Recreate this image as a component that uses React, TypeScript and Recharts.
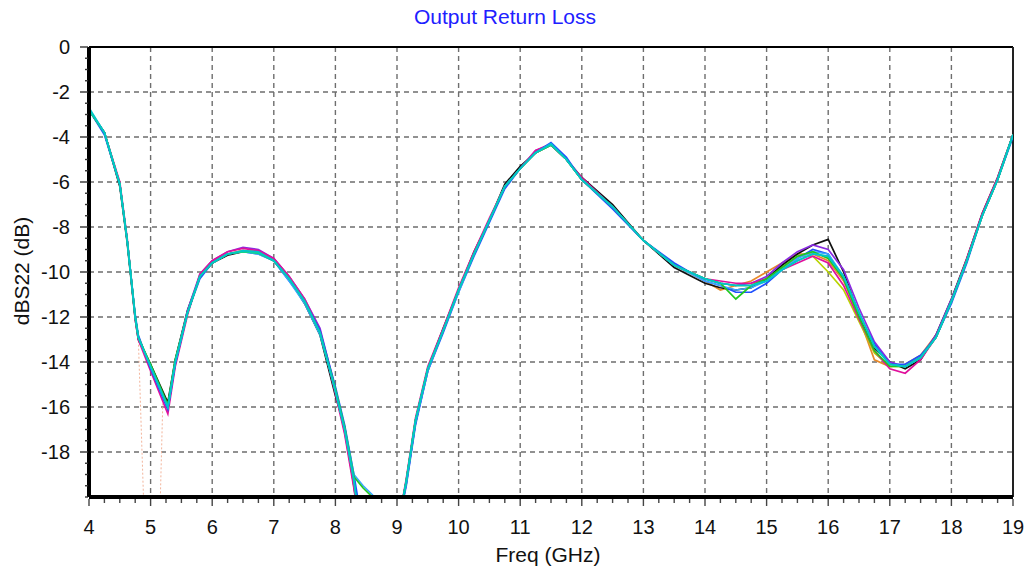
import { LineChart, Line, CartesianGrid, XAxis, YAxis, ReferenceLine } from 'recharts';

// frequency points (GHz) shared by every trace
const freqs = [
  4.0, 4.25, 4.5, 4.62, 4.75, 4.8, 5.0, 5.28, 5.4, 5.6,
  5.8, 6.0, 6.25, 6.5, 6.75, 7.0, 7.25, 7.5, 7.75, 8.0,
  8.15, 8.3, 8.45, 8.6, 9.0, 9.15, 9.3, 9.5, 9.75, 10.0,
  10.25, 10.5, 10.75, 11.0, 11.25, 11.5, 11.75, 12.0, 12.5, 13.0,
  13.5, 14.0, 14.25, 14.5, 14.75, 15.0, 15.25, 15.5, 15.75, 16.0,
  16.25, 16.5, 16.75, 17.0, 17.25, 17.5, 17.75, 18.0, 18.25, 18.5,
  18.75, 19.0,
];

const orangeDb = [
  -2.8, -3.8, -6.1, -8.6, -12.0, -12.9, -14.2, -16.0, -14.0, -11.8,
  -10.2, -9.6, -9.2, -9.05, -9.1, -9.5, -10.3, -11.3, -12.7, -15.3,
  -17.0, -19.3, -22.5, -24.0, -21.5, -19.3, -16.6, -14.3, -12.6, -10.8,
  -9.2, -7.7, -6.2, -5.4, -4.7, -4.35, -5.0, -5.9, -7.1, -8.6,
  -9.7, -10.4, -10.8, -10.6, -10.4, -10.0, -9.6, -9.2, -9.2, -9.5,
  -10.4, -12.0, -13.9, -14.2, -14.1, -13.7, -12.8, -11.3, -9.5, -7.5,
  -5.9, -3.9,
];
const yellowDb = [
  -2.8, -3.8, -6.1, -8.6, -12.0, -12.9, -14.2, -16.0, -14.0, -11.8,
  -10.2, -9.6, -9.2, -9.05, -9.1, -9.5, -10.3, -11.3, -12.7, -15.3,
  -17.0, -19.2, -22.5, -24.0, -21.5, -19.3, -16.6, -14.3, -12.6, -10.8,
  -9.2, -7.7, -6.2, -5.4, -4.7, -4.3, -5.0, -5.9, -7.1, -8.6,
  -9.7, -10.3, -10.5, -10.6, -10.6, -10.3, -9.8, -9.3, -9.3, -10.0,
  -10.8, -12.2, -13.6, -14.2, -14.2, -13.8, -12.9, -11.3, -9.5, -7.5,
  -5.9, -3.9,
];
const blackDb = [
  -2.8, -3.8, -6.2, -8.7, -12.1, -13.0, -14.1, -15.8, -13.9, -11.7,
  -10.2, -9.6, -9.25, -9.1, -9.15, -9.5, -10.3, -11.4, -12.8, -15.5,
  -16.9, -19.5, -22.5, -24.0, -21.5, -19.4, -16.7, -14.3, -12.5, -10.8,
  -9.1, -7.7, -6.1, -5.3, -4.7, -4.35, -5.0, -5.8, -7.0, -8.6,
  -9.8, -10.5, -10.7, -10.8, -10.7, -10.3, -9.7, -9.2, -8.8, -8.55,
  -10.0, -11.9, -13.4, -14.0, -14.3, -13.9, -12.8, -11.2, -9.4, -7.4,
  -5.8, -3.9,
];
const purpleDb = [
  -2.8, -3.8, -6.1, -8.6, -12.0, -12.9, -14.2, -16.1, -14.0, -11.7,
  -10.1, -9.5, -9.1, -8.9, -9.0, -9.4, -10.2, -11.2, -12.5, -15.2,
  -17.1, -19.4, -22.5, -24.0, -21.5, -19.3, -16.7, -14.4, -12.6, -10.8,
  -9.2, -7.7, -6.2, -5.4, -4.6, -4.35, -5.0, -5.9, -7.1, -8.6,
  -9.7, -10.3, -10.5, -10.6, -10.5, -10.2, -9.6, -9.1, -8.8, -9.0,
  -9.9, -11.6, -13.1, -14.0, -14.2, -13.8, -12.8, -11.2, -9.5, -7.5,
  -5.9, -3.9,
];
const magentaDb = [
  -2.8, -3.8, -6.0, -8.5, -12.1, -13.0, -14.4, -16.3, -14.2, -11.9,
  -10.1, -9.5, -9.1, -8.95, -9.05, -9.4, -10.2, -11.2, -12.6, -15.4,
  -17.2, -19.6, -22.5, -24.0, -21.5, -19.2, -16.5, -14.2, -12.5, -10.7,
  -9.1, -7.6, -6.2, -5.4, -4.6, -4.3, -5.0, -5.8, -7.1, -8.6,
  -9.7, -10.3, -10.4, -10.5, -10.5, -10.3, -9.9, -9.6, -9.3, -9.6,
  -10.6, -12.1, -13.5, -14.3, -14.5, -13.9, -12.9, -11.3, -9.4, -7.4,
  -5.8, -3.9,
];
const blueDb = [
  -2.8, -3.9, -6.1, -8.6, -11.9, -12.8, -14.3, -16.1, -14.1, -11.8,
  -10.3, -9.6, -9.2, -9.1, -9.2, -9.5, -10.4, -11.3, -12.6, -15.1,
  -16.8, -19.0, -21.5, -24.0, -21.5, -19.5, -16.8, -14.4, -12.7, -10.9,
  -9.3, -7.8, -6.3, -5.4, -4.7, -4.25, -4.9, -5.9, -7.2, -8.6,
  -9.6, -10.4, -10.6, -10.9, -10.9, -10.5, -9.9, -9.4, -9.0, -9.2,
  -10.3, -11.9, -13.2, -14.1, -14.1, -13.7, -12.9, -11.4, -9.6, -7.5,
  -5.9, -4.0,
];
const skyDb = [
  -2.8, -3.8, -6.1, -8.6, -12.0, -12.9, -14.2, -16.0, -14.0, -11.8,
  -10.2, -9.6, -9.2, -9.1, -9.2, -9.5, -10.4, -11.4, -12.8, -15.2,
  -16.9, -19.0, -19.5, -19.9, -21.5, -19.4, -16.7, -14.4, -12.6, -10.9,
  -9.2, -7.7, -6.2, -5.4, -4.7, -4.3, -5.0, -5.9, -7.1, -8.6,
  -9.7, -10.4, -10.6, -10.8, -10.7, -10.4, -9.9, -9.4, -9.1, -9.2,
  -10.2, -11.8, -13.3, -14.1, -14.2, -13.8, -12.9, -11.3, -9.5, -7.5,
  -5.9, -3.9,
];
const greenDb = [
  -2.8, -3.8, -6.1, -8.6, -12.0, -12.9, -14.1, -15.9, -13.9, -11.8,
  -10.2, -9.6, -9.2, -9.1, -9.15, -9.5, -10.3, -11.3, -12.7, -15.2,
  -16.9, -19.1, -19.6, -20.0, -21.5, -19.3, -16.6, -14.3, -12.6, -10.8,
  -9.2, -7.7, -6.2, -5.4, -4.7, -4.35, -5.0, -5.9, -7.1, -8.6,
  -9.7, -10.3, -10.5, -11.2, -10.6, -10.3, -9.8, -9.3, -9.1, -9.4,
  -10.3, -12.0, -13.5, -14.2, -14.2, -13.8, -12.9, -11.3, -9.5, -7.5,
  -5.9, -3.9,
];
const tealDb = [
  -2.8, -3.8, -6.1, -8.6, -12.0, -12.9, -14.2, -16.0, -14.0, -11.8,
  -10.2, -9.6, -9.2, -9.1, -9.15, -9.5, -10.3, -11.3, -12.7, -15.3,
  -17.0, -19.3, -22.5, -24.0, -21.5, -19.3, -16.6, -14.3, -12.6, -10.8,
  -9.2, -7.7, -6.2, -5.4, -4.7, -4.35, -5.0, -5.9, -7.1, -8.6,
  -9.7, -10.3, -10.5, -10.6, -10.6, -10.4, -9.9, -9.5, -9.2, -9.3,
  -10.2, -11.8, -13.3, -14.1, -14.2, -13.8, -12.9, -11.3, -9.5, -7.5,
  -5.9, -3.9,
];
const cyanDb = [
  -2.7, -3.8, -6.1, -8.6, -12.0, -12.9, -14.2, -16.0, -14.0, -11.8,
  -10.2, -9.6, -9.2, -9.05, -9.1, -9.5, -10.3, -11.3, -12.7, -15.3,
  -17.0, -19.2, -22.5, -24.0, -21.5, -19.3, -16.6, -14.3, -12.6, -10.8,
  -9.2, -7.7, -6.2, -5.4, -4.7, -4.3, -5.0, -5.9, -7.1, -8.6,
  -9.7, -10.3, -10.5, -10.6, -10.6, -10.4, -9.9, -9.5, -9.2, -9.3,
  -10.2, -11.8, -13.3, -14.1, -14.2, -13.8, -12.9, -11.3, -9.5, -7.5,
  -5.9, -3.9,
];

// faint trace with two deep notches near 5 GHz
const paleFreqs = [4.75, 4.8, 4.92, 5.13, 5.2, 5.28];
const paleDb = [-12.0, -12.9, -23.0, -23.0, -15.6, -16.0];

const xMajor = [4, 5, 6, 7, 8, 9, 10, 11, 12, 13, 14, 15, 16, 17, 18, 19];
const yMajor = [0, -2, -4, -6, -8, -10, -12, -14, -16, -18];
const xTicks = Array.from({ length: 61 }, (_, i) => 4 + i * 0.25);
const yTicks = Array.from({ length: 41 }, (_, i) => -i * 0.5);

const traces = [
  { name: 'orange', color: '#e8892a', values: orangeDb },
  { name: 'yellow', color: '#b8d400', values: yellowDb },
  { name: 'black', color: '#111111', values: blackDb },
  { name: 'purple', color: '#8a2be2', values: purpleDb },
  { name: 'magenta', color: '#e0109c', values: magentaDb },
  { name: 'blue', color: '#1e50ff', values: blueDb },
  { name: 'sky', color: '#3aa6ff', values: skyDb },
  { name: 'green', color: '#20c820', values: greenDb },
  { name: 'teal', color: '#10d898', values: tealDb },
  { name: 'cyan', color: '#00c4cc', values: cyanDb },
];

const toPoints = (fs: number[], vs: number[]) => fs.map((f, i) => ({ f, v: vs[i] }));

const font = '"Liberation Sans", Arial, sans-serif';
const TICK_SIZE = 8;
const X_MARGIN = 15;
const Y_MARGIN = 11;

const XTick = (props: any) => {
  const { x, y, payload } = props;
  const v = payload.value;
  const major = Number.isInteger(v);
  const axisY = y - TICK_SIZE - X_MARGIN;
  return (
    <g>
      <line x1={x} x2={x} y1={axisY + 2} y2={axisY + (major ? 9 : 6)} stroke="#444" strokeWidth={1.4} />
      {major && (
        <text x={x} y={y} dy="0.72em" textAnchor="middle" fontSize={20} fontFamily={font} fill="#111">
          {v}
        </text>
      )}
    </g>
  );
};

const YTick = (props: any) => {
  const { x, y, payload } = props;
  const v = payload.value;
  const major = v % 2 === 0 && v > -20;
  const axisX = x + TICK_SIZE + Y_MARGIN;
  return (
    <g>
      <line x1={axisX - (major ? 9 : 4)} x2={axisX - 1} y1={y} y2={y} stroke="#333" strokeWidth={1.4} />
      {major && (
        <text x={x} y={y} dy="0.36em" textAnchor="end" fontSize={20} fontFamily={font} fill="#111">
          {v}
        </text>
      )}
    </g>
  );
};

const App = () => {
  return (
    <div style={{ position: 'absolute', left: 0, top: 0, width: 1029, height: 574, background: '#fff' }}>
      <LineChart width={1029} height={574} margin={{ top: 47, right: 16, bottom: 37, left: 29 }}>
        <CartesianGrid
          stroke="#6e6e6e"
          strokeWidth={1.4}
          strokeDasharray="5 4"
          verticalValues={xMajor}
          horizontalValues={yMajor}
        />
        <XAxis
          type="number"
          dataKey="f"
          domain={[4, 19]}
          ticks={xTicks}
          interval={0}
          allowDataOverflow
          height={40}
          tickSize={TICK_SIZE}
          tickMargin={X_MARGIN}
          tickLine={false}
          tick={XTick}
          axisLine={{ stroke: '#000', strokeWidth: 4 }}
        />
        <YAxis
          type="number"
          domain={[-20, 0]}
          ticks={yTicks}
          interval={0}
          allowDataOverflow
          width={60}
          tickSize={TICK_SIZE}
          tickMargin={Y_MARGIN}
          tickLine={false}
          tick={YTick}
          axisLine={{ stroke: '#000', strokeWidth: 4 }}
        />
        <ReferenceLine y={0} stroke="#000" strokeWidth={2} />
        <ReferenceLine x={19} stroke="#222" strokeWidth={2} />
        <Line
          data={toPoints(paleFreqs, paleDb)}
          dataKey="v"
          name="pale"
          stroke="#f3b59c"
          strokeWidth={1}
          strokeDasharray="2 2"
          dot={false}
          isAnimationActive={false}
        />
        {traces.map((t) => (
          <Line
            key={t.name}
            data={toPoints(freqs, t.values)}
            dataKey="v"
            name={t.name}
            type="linear"
            stroke={t.color}
            strokeWidth={1.7}
            dot={false}
            isAnimationActive={false}
          />
        ))}
      </LineChart>
      <div style={{ position: 'absolute', left: 385, top: 6, width: 240, textAlign: 'center', fontFamily: font, fontSize: 21, lineHeight: '21px', color: '#2020ff' }}>
        Output Return Loss
      </div>
      <div style={{ position: 'absolute', left: 448, top: 544, width: 200, textAlign: 'center', fontFamily: font, fontSize: 21, lineHeight: '21px', color: '#111' }}>
        Freq (GHz)
      </div>
      <div style={{ position: 'absolute', left: -58, top: 259, width: 160, height: 24, textAlign: 'center', fontFamily: font, fontSize: 21, lineHeight: '24px', color: '#111', transform: 'rotate(-90deg)' }}>
        dBS22 (dB)
      </div>
    </div>
  );
};

export default App;
